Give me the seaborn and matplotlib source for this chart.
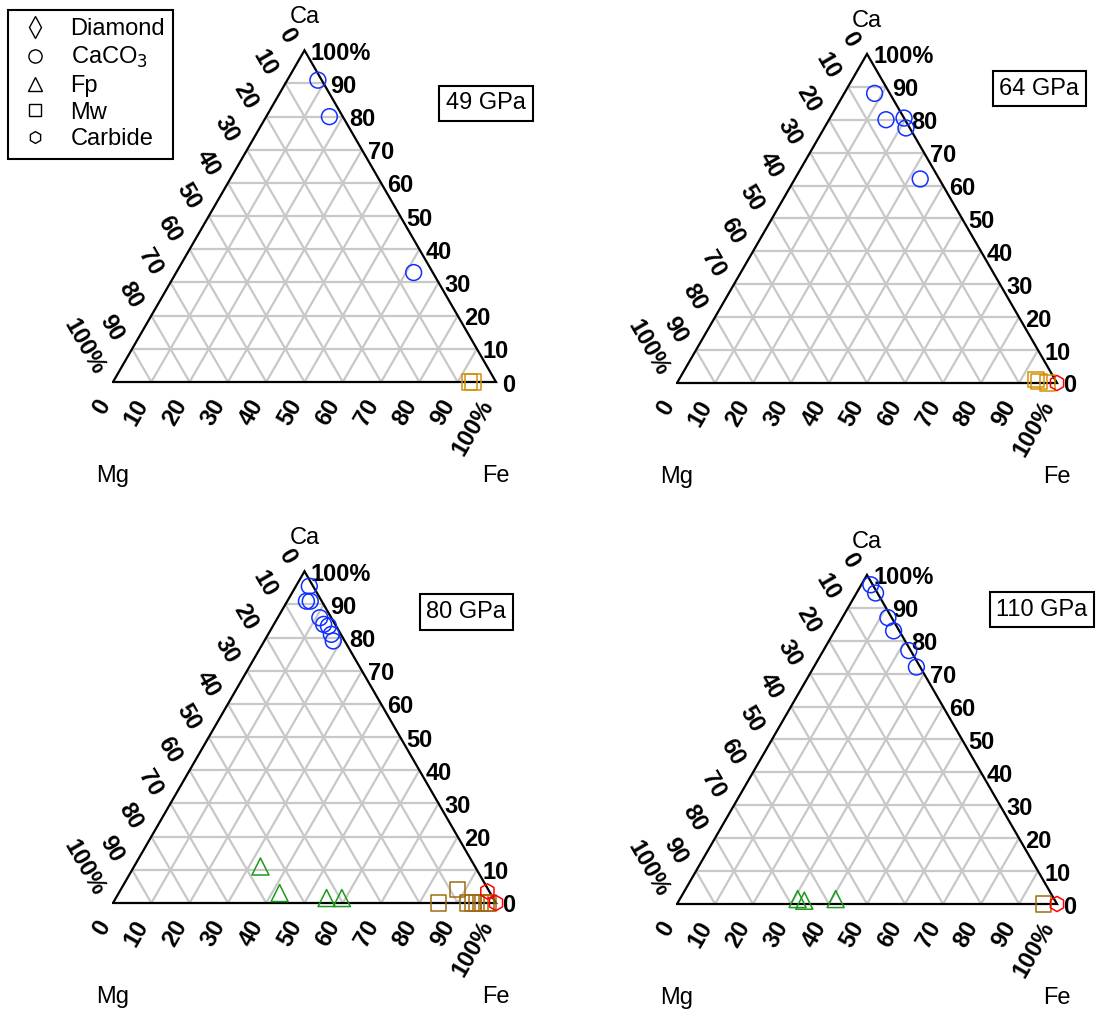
import numpy as np
import pandas as pd
import matplotlib
matplotlib.use('Agg')
import matplotlib.pyplot as plt
from matplotlib.lines import Line2D
import seaborn as sns

sns.set_style('white')
plt.rcParams['font.family'] = ['Liberation Sans', 'DejaVu Sans']
plt.rcParams['text.color'] = 'black'

# compositions in % : Ca and Fe given, Mg is the rest
pressures = ['49 GPa', '64 GPa', '80 GPa', '110 GPa']

caco3_ca = [[91, 80, 33], [88, 80, 80.5, 77.5, 62],
            [95.5, 91, 91, 86, 84, 83.5, 81, 79], [97, 94.5, 87, 83, 77, 72]]
caco3_fe = [[8, 16.5, 62], [8, 15, 19.5, 21.5, 33],
            [3.5, 5, 6, 11, 13, 14.5, 16.5, 18], [2.5, 5, 12, 15.5, 22.5, 27]]
fp_ca = [[], [], [11, 3, 1.5, 1.5], [1.5, 1, 1.5]]
fp_fe = [[], [], [33, 42, 55, 59], [31, 33, 41]]
mw_ca = [[0, 0], [1, 0.5, 0], [4, 0, 0, 0, 0, 0, 0, 0], [0]]
mw_fe = [[93, 94], [94, 95, 97.5], [88, 85, 92.5, 94, 95, 96, 97.5, 98], [96.5]]
carb_ca = [[], [0], [3.5, 0], [0]]
carb_fe = [[], [100], [96, 100], [100]]

tick_vals = [0, 10, 20, 30, 40, 50, 60, 70, 80, 90, 100]
tick_text = ['0', '10', '20', '30', '40', '50', '60', '70', '80', '90', '100%']

# panel placement in pixels: left vertex x, base y, side length
geo = [(113, 382, 383), (677, 383, 380), (113, 903, 383), (677, 904, 380)]
box_xy = [(0.974, 0.728), (0.953, 0.774), (0.922, 0.76), (0.96, 0.774)]
mw_col = ['#d4900a', '#d4900a', '#a06b12', '#a06b12']

W, H = 1096, 1015
h3 = np.sqrt(3) / 2
FS = 17


def to_xy(ca, fe):
    ca = np.asarray(ca, float) / 100
    fe = np.asarray(fe, float) / 100
    return fe + ca / 2, ca * h3


fig = plt.figure(figsize=(W / 100, H / 100), dpi=100)

for i in range(4):
    lx, by, S = geo[i]
    ax = fig.add_axes([(lx - 0.3 * S) / W, 1 - (by + 0.3 * S) / H, 1.75 * S / W, 1.3 * S / H])

    # grid lines
    for t in range(10, 100, 10):
        f = t / 100
        gx = [[f / 2, 1 - f / 2], [f, f / 2 + 0.5], [1 - f, (1 - f) / 2]]
        gy = [[f * h3, f * h3], [0, (1 - f) * h3], [0, (1 - f) * h3]]
        for xs, ys in zip(gx, gy):
            ax.plot(xs, ys, color='#c8c8c8', lw=1.6, zorder=1)
    ax.plot([0, 1, 0.5, 0], [0, 0, h3, 0], color='black', lw=1.6, zorder=2, solid_joinstyle='miter')

    # tick labels
    d = 1 / S
    for v, s in zip(tick_vals, tick_text):
        f = v / 100
        # Ca on the right edge
        ax.text(1 - f / 2 + 6 * d, f * h3 - 3 * d, s, ha='left', va='center', fontsize=FS, fontweight='bold')
        # Mg on the left edge
        ax.text((1 - f) / 2 - 14 * d, (1 - f) * h3 + 9 * d, s, ha='right', va='center',
                rotation=-60, rotation_mode='anchor', fontsize=FS, fontweight='bold')
        # Fe on the bottom edge
        ax.text(f - 8 * d, -19 * d, s, ha='right', va='center',
                rotation=60, rotation_mode='anchor', fontsize=FS, fontweight='bold')

    ax.text(0.5, h3 + 33 * d, 'Ca', ha='center', va='center', fontsize=FS)
    ax.text(0, -94 * d, 'Mg', ha='center', va='center', fontsize=FS)
    ax.text(1, -94 * d, 'Fe', ha='center', va='center', fontsize=FS)
    ax.text(box_xy[i][0], box_xy[i][1], pressures[i], ha='center', va='center', fontsize=FS,
            bbox=dict(boxstyle='square,pad=0.28', fc='white', ec='black', lw=1.5))

    series = [(caco3_ca, caco3_fe, 'o', '#1030ff', 130),
              (fp_ca, fp_fe, '^', '#1a9a1a', 150),
              (mw_ca, mw_fe, 's', mw_col[i], 120),
              (carb_ca, carb_fe, 'h', '#ff0000', 120)]
    for ca, fe, mk, col, sz in series:
        if len(ca[i]) == 0:
            continue
        x, y = to_xy(ca[i], fe[i])
        df = pd.DataFrame({'x': x, 'y': y})
        sns.scatterplot(data=df, x='x', y='y', marker=mk, s=sz, color=col,
                        facecolor='none', edgecolor=col, linewidth=1.1,
                        ax=ax, zorder=3, clip_on=False, legend=False)
    ax.set_xlim(-0.3, 1.45)
    ax.set_ylim(-0.3, 1.0)
    ax.axis('off')

handles = [Line2D([], [], ls='none', marker=m, ms=ms, mfc='none', mec='black', mew=1.0)
           for m, ms in [('d', 11), ('o', 9.5), ('^', 9.5), ('s', 9), ('h', 8.5)]]
labels = ['Diamond', 'CaCO$_3$', 'Fp', 'Mw', 'Carbide']
leg = fig.legend(handles, labels, loc='upper left', bbox_to_anchor=(8 / W, 1 - 10 / H),
                 fontsize=FS, frameon=True, fancybox=False, edgecolor='black', framealpha=1,
                 handlelength=1.6, handletextpad=0.7, labelspacing=0.2, borderpad=0.35,
                 borderaxespad=0)
leg.get_frame().set_linewidth(1.5)

plt.savefig('out.png', dpi=100)
